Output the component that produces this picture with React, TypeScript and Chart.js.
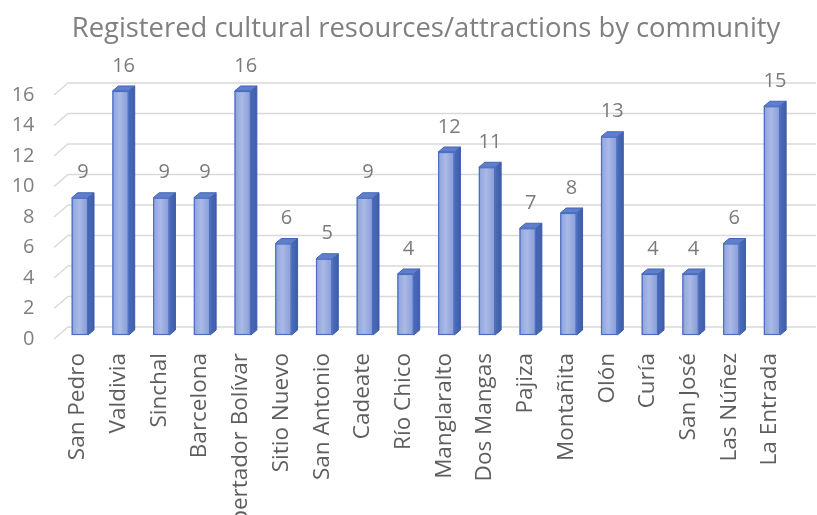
import React, { useEffect, useRef } from "react";
import { Chart, registerables } from "chart.js";

Chart.register(...registerables);

const TITLE = "Registered cultural resources/attractions by community";
const communities = [
  "San Pedro", "Valdivia", "Sinchal", "Barcelona", "Libertador Bolívar",
  "Sitio Nuevo", "San Antonio", "Cadeate", "Río Chico", "Manglaralto",
  "Dos Mangas", "Pajiza", "Montañita", "Olón", "Curía", "San José",
  "Las Núñez", "La Entrada",
];
const counts = [9, 16, 9, 9, 16, 6, 5, 9, 4, 12, 11, 7, 8, 13, 4, 4, 6, 15];
const yMin = 0;
const yMax = 16;
const yStep = 2;

const FONT = "'Open Sans', 'Noto Sans', sans-serif";

const titlePlugin = {
  id: "titleText",
  afterDraw(chart: any) {
    const { ctx } = chart;
    ctx.save();
    ctx.font = `27.4px ${FONT}`;
    ctx.fillStyle = "#808080";
    ctx.textAlign = "center";
    ctx.textBaseline = "alphabetic";
    ctx.fillText(TITLE, 426, 37);
    ctx.restore();
  },
};

const wallPlugin = {
  id: "wall",
  beforeDatasetsDraw(chart: any) {
    const { ctx, scales } = chart;
    const y = scales.y;
    ctx.save();
    ctx.strokeStyle = "#d9d9d9";
    ctx.lineWidth = 1.4;
    y.ticks.forEach((t: any) => {
      const py = y.getPixelForValue(t.value);
      ctx.beginPath();
      ctx.moveTo(54, py + 4);
      ctx.lineTo(68, py - 8);
      ctx.lineTo(816, py - 8);
      ctx.stroke();
    });
    ctx.restore();
  },
};

const bar3dPlugin = {
  id: "bar3d",
  afterDatasetsDraw(chart: any) {
    const { ctx } = chart;
    const meta = chart.getDatasetMeta(0);
    const dx = 6;
    const dy = 5;
    ctx.save();
    meta.data.forEach((bar: any, i: number) => {
      const { x, y, base, width } = bar.getProps(["x", "y", "base", "width"], true);
      const l = x - width / 2;
      const r = x + width / 2;
      // side face
      const sg = ctx.createLinearGradient(r, 0, r + dx, 0);
      sg.addColorStop(0, "#4b6bbb");
      sg.addColorStop(1, "#3f5ea9");
      ctx.fillStyle = sg;
      ctx.beginPath();
      ctx.moveTo(r, y);
      ctx.lineTo(r + dx, y - dy);
      ctx.lineTo(r + dx, base - dy);
      ctx.lineTo(r, base);
      ctx.closePath();
      ctx.fill();
      ctx.strokeStyle = "#3c5ca6";
      ctx.lineWidth = 1;
      ctx.stroke();
      // top face
      ctx.fillStyle = "#5f7fcc";
      ctx.beginPath();
      ctx.moveTo(l, y);
      ctx.lineTo(l + dx, y - dy);
      ctx.lineTo(r + dx, y - dy);
      ctx.lineTo(r, y);
      ctx.closePath();
      ctx.fill();
      ctx.strokeStyle = "#4165b5";
      ctx.stroke();
      // front face gradient
      const fg = ctx.createLinearGradient(l, 0, r, 0);
      fg.addColorStop(0, "#8fa3db");
      fg.addColorStop(0.45, "#a9b9e7");
      fg.addColorStop(1, "#879bd6");
      ctx.fillStyle = fg;
      ctx.fillRect(l, y, width, base - y);
      ctx.strokeStyle = "#4a6ec2";
      ctx.lineWidth = 1.2;
      ctx.strokeRect(l + 0.5, y + 0.5, width - 1, base - y - 1);
      // value label
      ctx.font = `20px ${FONT}`;
      ctx.fillStyle = "#7b7b7b";
      ctx.textAlign = "center";
      ctx.textBaseline = "middle";
      ctx.fillText(String(counts[i]), x + 3, y - 25);
    });
    ctx.restore();
  },
};

export default function App() {
  const canvasRef = useRef<HTMLCanvasElement | null>(null);

  useEffect(() => {
    document.body.style.margin = "0";
    const canvas = canvasRef.current;
    if (!canvas) return;
    const chart = new Chart(canvas, {
      type: "bar",
      data: {
        labels: communities,
        datasets: [
          {
            data: counts,
            backgroundColor: "#9aaee0",
            borderColor: "#4a6ec2",
            borderWidth: 1,
            categoryPercentage: 1,
            barPercentage: 0.4,
          },
        ],
      },
      options: {
        responsive: false,
        animation: false,
        events: [],
        layout: { padding: { top: 91, left: 0, right: 0, bottom: 0 } },
        plugins: {
          legend: { display: false },
          title: { display: false },
          tooltip: { enabled: false },
        },
        scales: {
          x: {
            grid: { display: false, drawTicks: false },
            border: { display: false },
            ticks: {
              autoSkip: false,
              minRotation: 90,
              maxRotation: 90,
              padding: 18,
              labelOffset: -2,
              color: "#5e5e5e",
              font: { family: FONT, size: 22.5 },
            },
            afterFit(scale: any) {
              scale.height = 180;
            },
          },
          y: {
            min: yMin,
            max: yMax,
            grid: { display: false, drawTicks: false },
            border: { display: false },
            ticks: {
              stepSize: yStep,
              padding: 25,
              labelOffset: 4,
              color: "#7f7f7f",
              font: { family: FONT, size: 20 },
            },
            afterFit(scale: any) {
              scale.width = 59.5;
            },
          },
        },
      },
      plugins: [wallPlugin, bar3dPlugin, titlePlugin],
    });
    return () => chart.destroy();
  }, []);

  return (
    <div style={{ width: 817, height: 515, background: "#ffffff" }}>
      <canvas ref={canvasRef} width={817} height={515} />
    </div>
  );
}
